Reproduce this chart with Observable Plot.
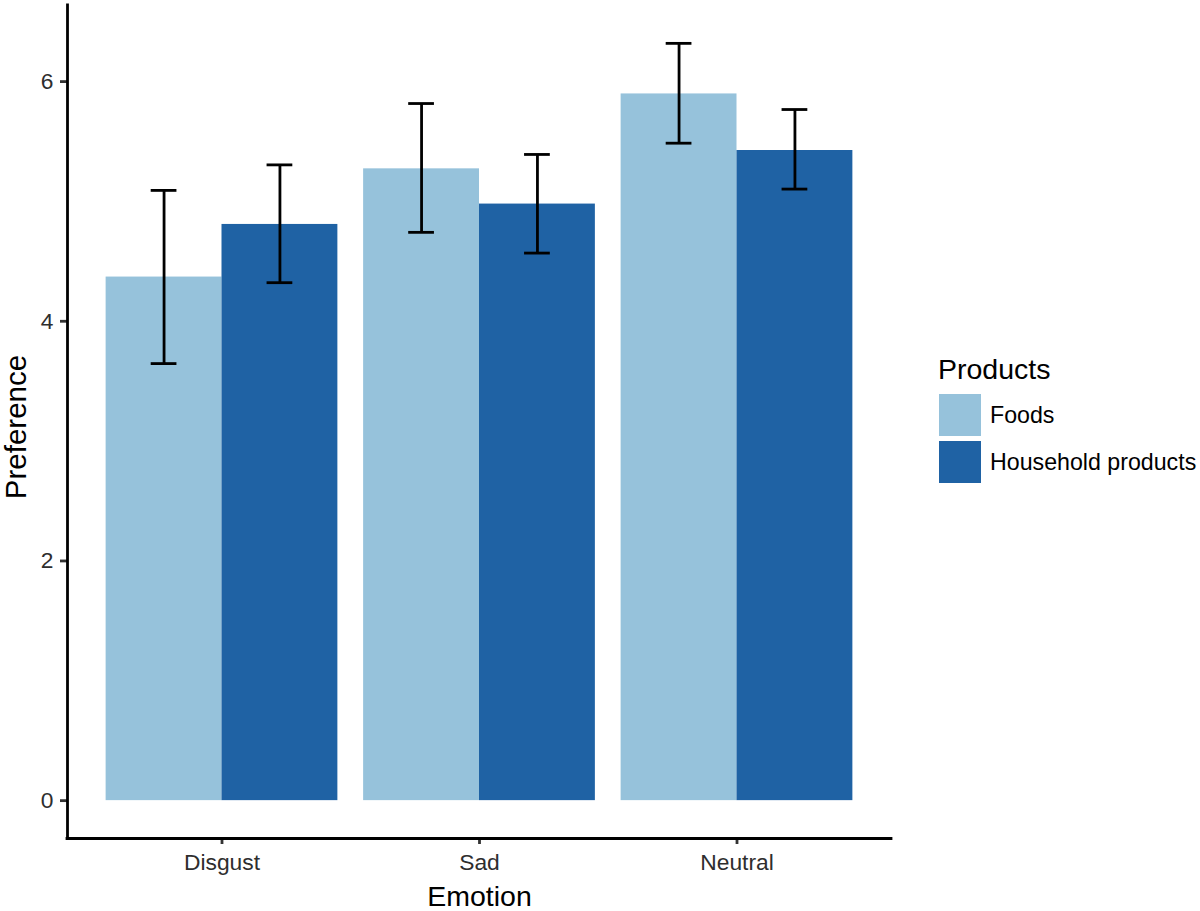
<!DOCTYPE html>
<html>
<head>
<meta charset="utf-8">
<script src="https://cdn.jsdelivr.net/npm/d3@7"></script>
<script src="https://cdn.jsdelivr.net/npm/@observablehq/plot@0.6"></script>
<style>
  html, body { margin: 0; padding: 0; background: #fff; }
  #wrap { position: relative; width: 1200px; height: 911px; font-family: "Liberation Sans", Arial, Helvetica, sans-serif; }
  #wrap svg g[aria-label^="y-axis"] path, #wrap svg g[aria-label^="y-axis"] line,
  #wrap svg g[aria-label^="x-axis"] path, #wrap svg g[aria-label^="x-axis"] line { stroke-width: 2.8px; stroke: #333; }
  #legend { position: absolute; left: 938px; top: 355px; color: #000; }
  #legend .title { font-size: 28.5px; line-height: 28px; height: 28px; margin-bottom: 11px; }
  #legend .row { display: flex; align-items: center; height: 42px; margin-bottom: 5px; }
  #legend .key { width: 42px; height: 42px; margin-left: 1px; margin-right: 9px; }
  #legend .lab { font-size: 23.2px; }
</style>
</head>
<body>
<div id="wrap"></div>
<script>
// ---- data ----
const emotions = ["Disgust", "Sad", "Neutral"];
const products = ["Foods", "Household products"];
const foodsMean = [4.369, 5.272, 5.897];
const foodsLow = [3.647, 4.742, 5.486];
const foodsHigh = [5.092, 5.817, 6.319];
const householdMean = [4.808, 4.978, 5.425];
const householdLow = [4.322, 4.569, 5.103];
const householdHigh = [5.305, 5.392, 5.767];
const yTicks = [0, 2, 4, 6];
const productColors = ["#96c2db", "#1f62a4"];

// ---- table ----
const rows = [];
emotions.forEach((e, i) => {
  rows.push({emotion: e, idx: i + 1, product: products[0], side: -1, mean: foodsMean[i], lo: foodsLow[i], hi: foodsHigh[i]});
  rows.push({emotion: e, idx: i + 1, product: products[1], side: 1, mean: householdMean[i], lo: householdLow[i], hi: householdHigh[i]});
});

const dodge = 0.45;   // half of the 0.9 group width
const capHalf = 0.05; // error bar cap half-width
const xDomain = [0.4, emotions.length + 0.6];
const yMax = d3.max(rows, d => d.hi);
const yDomain = [-0.05 * yMax, yMax * 1.05];
const lw = 2.8;

const chart = Plot.plot({
  width: 1200,
  height: 911,
  marginLeft: 67,
  marginRight: 309,
  marginTop: 5,
  marginBottom: 73,
  style: {fontFamily: "'Liberation Sans', Arial, Helvetica, sans-serif", fontSize: "22.8px", color: "#2e2e2e", background: "#fff"},
  x: {type: "linear", domain: xDomain, ticks: emotions.map((_, i) => i + 1), tickFormat: v => emotions[v - 1], tickSize: 6, tickPadding: 9, label: null},
  y: {domain: yDomain, ticks: yTicks, tickFormat: v => String(v), tickSize: 7, tickPadding: 7, label: null},
  color: {domain: products, range: productColors},
  marks: [
    Plot.rect(rows, {
      x1: d => d.idx + (d.side < 0 ? -dodge : 0),
      x2: d => d.idx + (d.side < 0 ? 0 : dodge),
      y1: d => 0,
      y2: "mean",
      fill: "product"
    }),
    Plot.ruleX(rows, {x: d => d.idx + d.side * dodge / 2, y1: "lo", y2: "hi", stroke: "black", strokeWidth: lw}),
    Plot.ruleY(rows, {y: "hi", x1: d => d.idx + d.side * dodge / 2 - capHalf, x2: d => d.idx + d.side * dodge / 2 + capHalf, stroke: "black", strokeWidth: lw}),
    Plot.ruleY(rows, {y: "lo", x1: d => d.idx + d.side * dodge / 2 - capHalf, x2: d => d.idx + d.side * dodge / 2 + capHalf, stroke: "black", strokeWidth: lw}),
    Plot.ruleY([yDomain[0]], {stroke: "black", strokeWidth: lw, strokeLinecap: "square"}),
    Plot.ruleX([xDomain[0]], {stroke: "black", strokeWidth: lw, strokeLinecap: "square"}),
    Plot.text(["Emotion"], {frameAnchor: "bottom", lineAnchor: "top", dy: 47, fontSize: 28.5, fill: "black"}),
    Plot.text(["Preference"], {frameAnchor: "left", textAnchor: "middle", lineAnchor: "middle", rotate: -90, dx: -51, dy: 5, fontSize: 29.5, fill: "black"})
  ]
});

const wrap = document.getElementById("wrap");
wrap.appendChild(chart);

// legend
const legend = document.createElement("div");
legend.id = "legend";
const title = document.createElement("div");
title.className = "title";
title.textContent = "Products";
legend.appendChild(title);
products.forEach((p, i) => {
  const row = document.createElement("div");
  row.className = "row";
  const key = document.createElement("div");
  key.className = "key";
  key.style.background = productColors[i];
  const lab = document.createElement("div");
  lab.className = "lab";
  lab.textContent = p;
  row.appendChild(key);
  row.appendChild(lab);
  legend.appendChild(row);
});
wrap.appendChild(legend);
</script>
</body>
</html>
